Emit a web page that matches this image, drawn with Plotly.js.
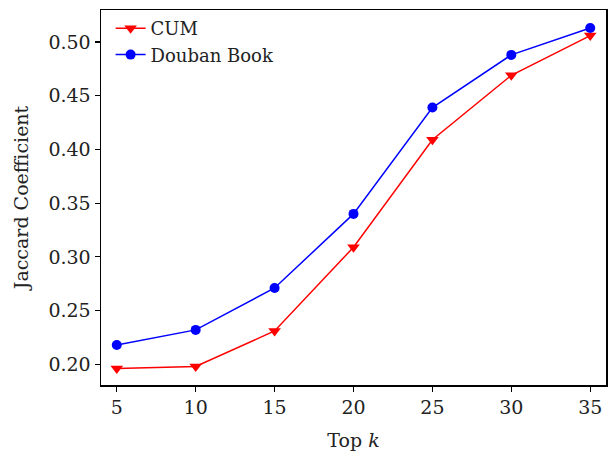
<!DOCTYPE html>
<html>
<head>
<meta charset="utf-8">
<script src="https://cdn.plot.ly/plotly-3.0.1.min.js"></script>
<style>html,body{margin:0;padding:0;background:#fff;}#chart{width:612px;height:454px;}</style>
</head>
<body>
<div id="chart"></div>
<script>
const topK = [5, 10, 15, 20, 25, 30, 35];
const cumValues = [0.196, 0.198, 0.231, 0.309, 0.409, 0.469, 0.506];
const doubanValues = [0.218, 0.232, 0.271, 0.340, 0.439, 0.488, 0.513];
const seriesNames = ["CUM", "Douban Book"];
const xTicks = [5, 10, 15, 20, 25, 30, 35];
const yTicks = [0.20, 0.25, 0.30, 0.35, 0.40, 0.45, 0.50];

const FONT = "DejaVu Serif";
const traces = [
  {x: topK, y: cumValues, name: seriesNames[0], mode: "lines+markers",
   line: {color: "#ff0000", width: 1.5},
   marker: {symbol: "triangle-down", size: 11, color: "#ff0000"}},
  {x: topK, y: doubanValues, name: seriesNames[1], mode: "lines+markers",
   line: {color: "#0000ff", width: 1.5},
   marker: {symbol: "circle", size: 10, color: "#0000ff"}}
];
const axisCommon = {
  showgrid: false, zeroline: false, showline: true, mirror: true,
  linecolor: "#000", linewidth: 1.5, ticks: "outside", ticklen: 5, tickwidth: 1.2,
  tickcolor: "#000", tickfont: {family: FONT, size: 19, color: "#222"}
};
const layout = {
  width: 612, height: 454,
  margin: {l: 101, r: 6, t: 10, b: 69},
  paper_bgcolor: "#fff", plot_bgcolor: "#fff",
  font: {family: FONT, color: "#222"},
  showlegend: true,
  legend: {x: 0.019, y: 1.0, xanchor: "left", yanchor: "top", bgcolor: "rgba(255,255,255,0)",
           font: {family: FONT, size: 18, color: "#222"}, tracegroupgap: 0, itemwidth: 30},
  xaxis: Object.assign({}, axisCommon, {
    range: [4, 36], tickvals: xTicks, ticktext: xTicks.map(String),
    title: {text: "Top <i>k</i>", font: {family: FONT, size: 19, color: "#222"}, standoff: 16}
  }),
  yaxis: Object.assign({}, axisCommon, {
    range: [0.1807, 0.5298], tickvals: yTicks, ticktext: yTicks.map(v => v.toFixed(2)),
    title: {text: "Jaccard Coefficient", font: {family: FONT, size: 19, color: "#222"}, standoff: 14}
  })
};
Plotly.newPlot("chart", traces, layout, {staticPlot: true, displayModeBar: false});
</script>
</body>
</html>
